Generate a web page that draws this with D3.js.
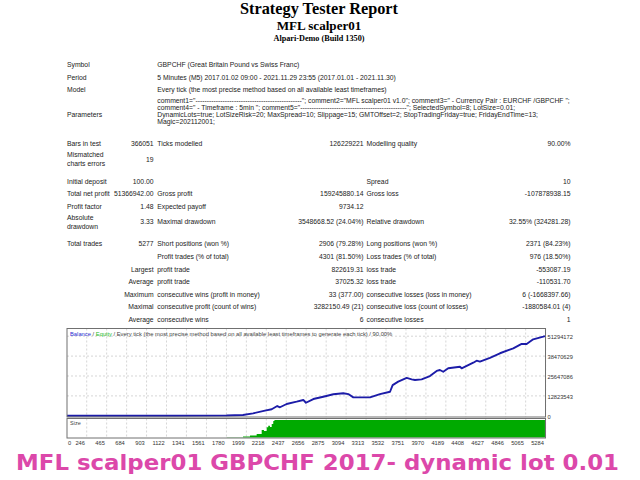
<!DOCTYPE html>
<html>
<head>
<meta charset="utf-8">
<script src="https://cdn.jsdelivr.net/npm/d3@7"></script>
<style>
  body { margin: 0; background: #fff; }
  svg { display: block; }
</style>
</head>
<body>
<svg id="report" width="640" height="480"></svg>
<script>
// report header
const titleLines = ["Strategy Tester Report", "MFL scalper01", "Alpari-Demo (Build 1350)"];

const infoLabels = ["Symbol", "Period", "Model", "Parameters"];
const infoValues = [
  "GBPCHF (Great Britain Pound vs Swiss Franc)",
  "5 Minutes (M5) 2017.01.02 09:00 - 2021.11.29 23:55 (2017.01.01 - 2021.11.30)",
  "Every tick (the most precise method based on all available least timeframes)"
];
const paramLines = [
  'comment1="-----------------------------------------------"; comment2="MFL scalper01 v1.0"; comment3=" - Currency Pair : EURCHF /GBPCHF ";',
  'comment4=" - Timeframe : 5min "; comment5="-----------------------------------------------"; SelectedSymbol=8; LotSize=0.01;',
  'DynamicLots=true; LotSizeRisk=20; MaxSpread=10; Slippage=15; GMTOffset=2; StopTradingFriday=true; FridayEndTime=13;',
  'Magic=202112001;'
];

// summary table: label, value, label, value, label, value
const statRows = [
  ["Bars in test", "366051", "Ticks modelled", "126229221", "Modelling quality", "90.00%"],
  ["Mismatched\ncharts errors", "19", "", "", "", ""],
  ["Initial deposit", "100.00", "", "", "Spread", "10"],
  ["Total net profit", "51366942.00", "Gross profit", "159245880.14", "Gross loss", "-107878938.15"],
  ["Profit factor", "1.48", "Expected payoff", "9734.12", "", ""],
  ["Absolute\ndrawdown", "3.33", "Maximal drawdown", "3548668.52 (24.04%)", "Relative drawdown", "32.55% (324281.28)"],
  ["Total trades", "5277", "Short positions (won %)", "2906 (79.28%)", "Long positions (won %)", "2371 (84.23%)"],
  ["", "", "Profit trades (% of total)", "4301 (81.50%)", "Loss trades (% of total)", "976 (18.50%)"],
  ["", "Largest", "profit trade", "822619.31", "loss trade", "-553087.19"],
  ["", "Average", "profit trade", "37025.32", "loss trade", "-110531.70"],
  ["", "Maximum", "consecutive wins (profit in money)", "33 (377.00)", "consecutive losses (loss in money)", "6 (-1668397.66)"],
  ["", "Maximal", "consecutive profit (count of wins)", "3282150.49 (21)", "consecutive loss (count of losses)", "-1880584.01 (4)"],
  ["", "Average", "consecutive wins", "6", "consecutive losses", "1"]
];

// chart
const legendParts = ["Balance", " / ", "Equity", " / Every tick (the most precise method based on all available least timeframes to generate each tick) / 90.00%"];
const xTicks = [0, 246, 465, 684, 903, 1122, 1341, 1561, 1780, 1999, 2218, 2437, 2656, 2875, 3094, 3313, 3532, 3751, 3970, 4189, 4408, 4627, 4846, 5065, 5284];
const yTicks = [0, 12823543, 25647086, 38470629, 51294172];

const balanceTrades = [0, 1200, 1780, 1962, 2072, 2203, 2277, 2338, 2368, 2441, 2551, 2624, 2653, 2734, 2843, 2953, 3063, 3118, 3173,
  3356, 3466, 3576, 3605, 3666, 3759, 3814, 3850, 3923, 4014, 4088, 4124, 4160, 4215, 4344, 4362, 4490, 4527, 4563,
  4673, 4783, 4929, 5021, 5076, 5148, 5258, 5277];
const balanceValues = [100, 9000, 150000, 500000, 1600000, 3300000, 4200000, 6300000, 5500000, 7600000, 9100000, 10200000, 8400000, 10800000, 12300000, 13900000, 14500000, 14000000, 11900000,
  11900000, 14000000, 15500000, 19800000, 22000000, 24400000, 23500000, 23100000, 23500000, 25600000, 28900000, 29500000, 28400000, 30600000, 31600000, 30600000, 34200000, 35500000, 34900000,
  37400000, 40300000, 43500000, 46300000, 46300000, 49300000, 51000000, 51366942];

const sizeTrades = [0, 1783, 1962, 2039, 2112, 2167, 2192, 2222, 2239, 2258, 2277, 2294, 2307, 5277];
const sizeLots = [0.01, 1, 6, 11, 20, 43, 37, 58, 67, 60, 77, 94, 100, 100];

const caption = "MFL scalper01  GBPCHF 2017- dynamic lot 0.01";

const svg = d3.select("#report");
const textFont = "'Liberation Sans', Arial, sans-serif";
const serifFont = "'Liberation Serif', 'Times New Roman', serif";

// header
const titleY = [13.5, 29.5, 40.5];
const titleSize = [16.3, 13.1, 8.2];
svg.selectAll("text.title")
  .data(titleLines)
  .join("text")
  .attr("class", "title")
  .attr("x", 319)
  .attr("y", (d, i) => titleY[i])
  .attr("text-anchor", "middle")
  .attr("font-family", serifFont)
  .attr("font-weight", "bold")
  .attr("font-size", (d, i) => titleSize[i])
  .attr("fill", "#000")
  .text(d => d);

const small = 6.8;
const infoY = [65, 77.7, 90, 114.3];
const table = svg.append("g")
  .attr("font-family", textFont)
  .attr("font-size", small)
  .attr("fill", "#222");

table.selectAll("text.info-label")
  .data(infoLabels)
  .join("text")
  .attr("class", "info-label")
  .attr("x", 67)
  .attr("y", (d, i) => infoY[i])
  .attr("dy", "0.35em")
  .text(d => d);

table.selectAll("text.info-value")
  .data(infoValues)
  .join("text")
  .attr("class", "info-value")
  .attr("x", 157.3)
  .attr("y", (d, i) => infoY[i])
  .attr("dy", "0.35em")
  .text(d => d);

const paramY = [100.3, 107.5, 114.7, 122];
table.selectAll("text.param")
  .data(paramLines)
  .join("text")
  .attr("class", "param")
  .attr("x", 157.3)
  .attr("y", (d, i) => paramY[i])
  .attr("dy", "0.35em")
  .text(d => d);

const statRowY = [144, 159.3, 181.7, 193.5, 206.3, 222, 244, 256.5, 269.5, 282, 294.3, 306.7, 319.5];
const colX = [67, 153.6, 157.3, 363.6, 366.5, 570.6];
const colAnchor = ["start", "end", "start", "end", "start", "end"];

statRows.forEach((row, r) => {
  row.forEach((cell, c) => {
    if (!cell) return;
    const lines = cell.split("\n");
    const t = table.append("text")
      .attr("x", colX[c])
      .attr("text-anchor", colAnchor[c]);
    lines.forEach((ln, k) => {
      t.append("tspan")
        .attr("x", colX[c])
        .attr("y", statRowY[r] + (k - (lines.length - 1) / 2) * 8.6)
        .attr("dy", "0.35em")
        .text(ln);
    });
  });
});

// chart
const plotLeft = 67, plotRight = 545.5, plotTop = 328.5, mainBottom = 417, sizeTop = 418.5, sizeBottom = 438;
const x = d3.scaleLinear().domain([246, 5284]).range([86.7, 545.6]);
const y = d3.scaleLinear().domain([0, 51294172]).range([415.8, 336.2]);
const ySize = d3.scaleLinear().domain([0, 100]).range([437.5, 420]);

const chart = svg.append("g");

chart.append("clipPath").attr("id", "mainClip")
  .append("rect").attr("x", plotLeft).attr("y", plotTop).attr("width", plotRight - plotLeft).attr("height", mainBottom - plotTop);
chart.append("clipPath").attr("id", "sizeClip")
  .append("rect").attr("x", plotLeft).attr("y", sizeTop).attr("width", plotRight - plotLeft).attr("height", sizeBottom - sizeTop);

// grid
const grid = chart.append("g")
  .attr("stroke", "#c4c4c4")
  .attr("stroke-width", 0.7)
  .attr("stroke-dasharray", "2,2");

grid.selectAll("line.vmain")
  .data(xTicks.slice(1))
  .join("line")
  .attr("class", "vmain")
  .attr("x1", d => x(d)).attr("x2", d => x(d))
  .attr("y1", plotTop).attr("y2", mainBottom);

grid.selectAll("line.vsize")
  .data(xTicks.slice(1))
  .join("line")
  .attr("class", "vsize")
  .attr("x1", d => x(d)).attr("x2", d => x(d))
  .attr("y1", sizeTop).attr("y2", sizeBottom);

grid.selectAll("line.h")
  .data(yTicks.slice(1))
  .join("line")
  .attr("class", "h")
  .attr("x1", plotLeft).attr("x2", plotRight)
  .attr("y1", d => y(d)).attr("y2", d => y(d));

// size area
const sizeData = sizeTrades.map((t, i) => ({t, v: sizeLots[i]}));
chart.append("path")
  .datum(sizeData)
  .attr("clip-path", "url(#sizeClip)")
  .attr("fill", "#00aa00")
  .attr("d", d3.area()
    .curve(d3.curveStepAfter)
    .x(d => x(d.t))
    .y0(ySize(0))
    .y1(d => ySize(d.v)));

// balance line
const balanceData = balanceTrades.map((t, i) => ({t, v: balanceValues[i]}));
chart.append("path")
  .datum(balanceData)
  .attr("clip-path", "url(#mainClip)")
  .attr("fill", "none")
  .attr("stroke", "#1c1ca8")
  .attr("stroke-width", 1.9)
  .attr("stroke-linejoin", "round")
  .attr("d", d3.line()
    .x(d => x(d.t))
    .y(d => y(d.v)));

// frames
chart.append("rect")
  .attr("x", plotLeft).attr("y", plotTop)
  .attr("width", plotRight - plotLeft).attr("height", mainBottom - plotTop)
  .attr("fill", "none").attr("stroke", "#707070").attr("stroke-width", 1);
chart.append("rect")
  .attr("x", plotLeft).attr("y", sizeTop)
  .attr("width", plotRight - plotLeft).attr("height", sizeBottom - sizeTop)
  .attr("fill", "none").attr("stroke", "#707070").attr("stroke-width", 1);

// legend
const legendColors = ["#2b2bd0", "#444", "#22bb22", "#444"];
const legend = chart.append("text")
  .attr("x", 70).attr("y", 334)
  .attr("dy", "0.35em")
  .attr("font-family", textFont)
  .attr("font-size", 5.8);
legend.selectAll("tspan")
  .data(legendParts)
  .join("tspan")
  .attr("fill", (d, i) => legendColors[i])
  .text(d => d);

chart.append("text")
  .attr("x", 70).attr("y", 422.7)
  .attr("dy", "0.35em")
  .attr("font-family", textFont)
  .attr("font-size", 5.5)
  .attr("fill", "#444")
  .text("Size");

// y labels
chart.selectAll("text.ylab")
  .data(yTicks)
  .join("text")
  .attr("class", "ylab")
  .attr("x", 547.5)
  .attr("y", d => y(d) + 1)
  .attr("dy", "0.35em")
  .attr("font-family", textFont)
  .attr("font-size", 5.7)
  .attr("fill", "#333")
  .text(d => d);

// x labels
chart.selectAll("text.xlab")
  .data(xTicks)
  .join("text")
  .attr("class", "xlab")
  .attr("x", d => d === 0 ? 68 : x(d) - 1.8)
  .attr("y", 443.5)
  .attr("dy", "0.35em")
  .attr("text-anchor", d => d === 0 ? "start" : "end")
  .attr("font-family", textFont)
  .attr("font-size", 5.7)
  .attr("fill", "#333")
  .text(d => d);

// caption
svg.append("text")
  .attr("x", 16)
  .attr("y", 470)
  .attr("font-family", "'DejaVu Sans', sans-serif")
  .attr("font-weight", "bold")
  .attr("font-size", 21)
  .attr("fill", "#dc48aa")
  .attr("textLength", 603)
  .attr("lengthAdjust", "spacingAndGlyphs")
  .text(caption);
</script>
</body>
</html>
